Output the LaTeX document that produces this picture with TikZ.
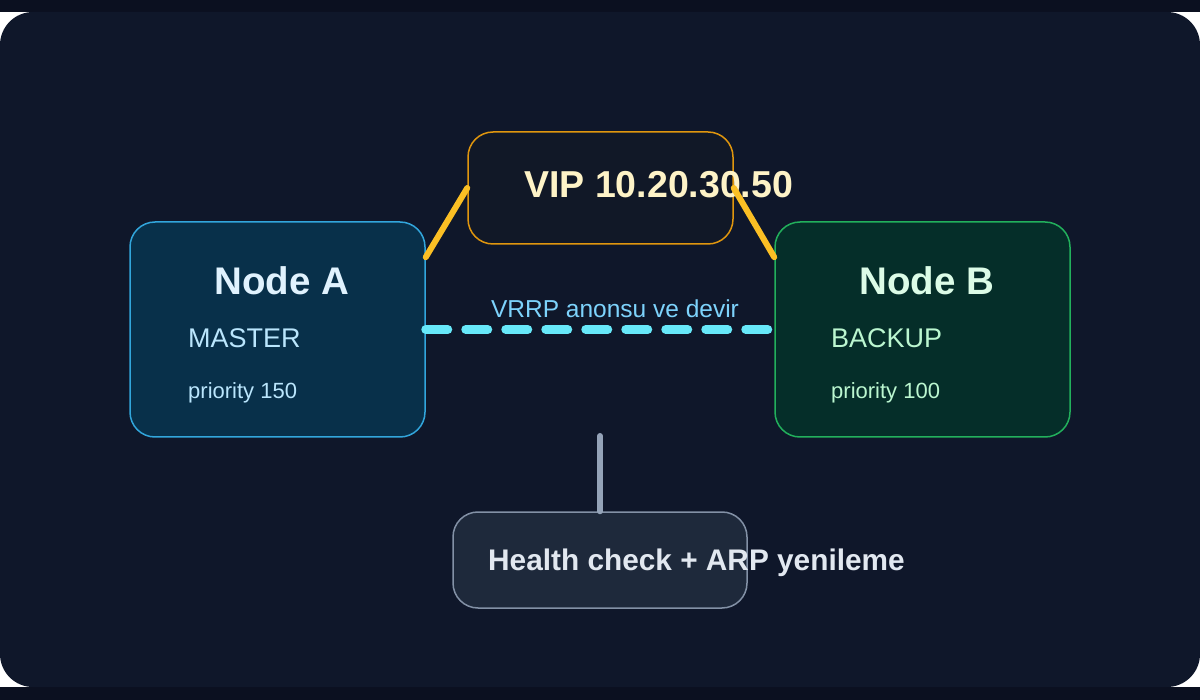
\documentclass[tikz,border=0pt]{standalone}
\usepackage{fontspec}
\setmainfont{Liberation Sans}
\definecolor{bgdark}{HTML}{0B1020}
\definecolor{panel}{HTML}{0F172A}
\definecolor{afill}{HTML}{08304A}
\definecolor{aline}{HTML}{32A6DC}
\definecolor{bfill}{HTML}{052E29}
\definecolor{bline}{HTML}{22B05C}
\definecolor{vfill}{HTML}{111827}
\definecolor{vline}{HTML}{E0960E}
\definecolor{hfill}{HTML}{1E293B}
\definecolor{hline}{HTML}{8391A6}
\definecolor{vipyellow}{HTML}{FBBF24}
\definecolor{vrrpcyan}{HTML}{67E8F9}
\definecolor{vrrptext}{HTML}{7DD3FC}
\definecolor{hcgrey}{HTML}{94A3B8}
\definecolor{viptext}{HTML}{FEF3C7}
\definecolor{atitle}{HTML}{E0F2FE}
\definecolor{asub}{HTML}{BAE6FD}
\definecolor{btitle}{HTML}{DCFCE7}
\definecolor{bsub}{HTML}{BBF7D0}
\definecolor{hctext}{HTML}{E2E8F0}

\begin{document}
\begin{tikzpicture}[x=1pt,y=-1pt,
  box/.style={draw,rounded corners=25pt,line width=1.5pt,inner sep=0pt},
  title/.style={inner sep=0pt,anchor=base,font=\fontsize{38.5}{40}\selectfont\bfseries},
  txt/.style={inner sep=0pt,anchor=base west},
  link/.style={line width=6pt,line cap=round}]
  \useasboundingbox (0,0) rectangle (1200,700);
  \fill[white] (0,0) rectangle (1200,700);
  \fill[bgdark] (0,0) rectangle (1200,12);
  \fill[bgdark] (0,687) rectangle (1200,700);
  \fill[panel,rounded corners=33pt] (0,12) rectangle (1200,687);

  % boxes
  \node (vip) at (600.5,188) [box,fill=vfill,draw=vline,minimum width=265pt,minimum height=112pt] {};
  \node (nodeA) at (277.5,329.5) [box,fill=afill,draw=aline,minimum width=295pt,minimum height=215pt] {};
  \node (nodeB) at (922.5,329.5) [box,fill=bfill,draw=bline,minimum width=295pt,minimum height=215pt] {};
  \node (health) at (600,560) [box,fill=hfill,draw=hline,minimum width=294pt,minimum height=96pt] {};

  % texts
  \node (vipText) at (524,198) [txt,text=viptext,font=\fontsize{37.5}{40}\selectfont\bfseries] {VIP 10.20.30.50};
  \node (aTitle) at (282,295) [title,text=atitle] {Node A};
  \node (aRole) at (188,348) [txt,text=asub,font=\fontsize{27}{30}\selectfont] {MASTER};
  \node (aPrio) at (188,399) [txt,text=asub,font=\fontsize{22}{24}\selectfont] {priority 150};
  \node (bTitle) at (927,295) [title,text=btitle] {Node B};
  \node (bRole) at (831,348) [txt,text=bsub,font=\fontsize{27}{30}\selectfont] {BACKUP};
  \node (bPrio) at (831,399) [txt,text=bsub,font=\fontsize{22}{24}\selectfont] {priority 100};
  \node (hcText) at (488,570) [txt,text=hctext,font=\fontsize{29.8}{32}\selectfont\bfseries] {Health check + ARP yenileme};
  \node (vrrpText) at (615,318) [inner sep=0pt,anchor=base,text=vrrptext,font=\fontsize{24.5}{26}\selectfont] {VRRP anonsu ve devir};

  % connectors
  \draw[link,vipyellow] (nodeA.26) -- (vip.west);
  \draw[link,vipyellow] (vip.east) -- (nodeB.154);
  \draw[vrrpcyan,line width=9pt,line cap=round,dash pattern=on 22pt off 18pt] (nodeA.east) -- (nodeB.west);
  \coordinate (hcTop) at (600,436);
  \draw[link,hcgrey] (hcTop) -- (health.north);
\end{tikzpicture}
\end{document}
